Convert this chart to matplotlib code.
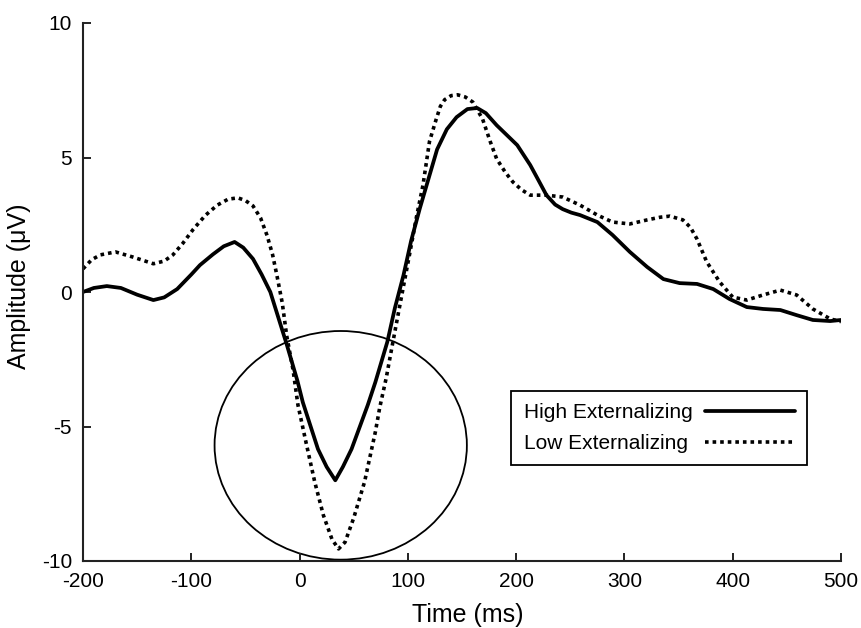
import matplotlib
matplotlib.use('Agg')
import numpy as np
import matplotlib.pyplot as plt
from matplotlib.patches import Ellipse

# ERP waveforms (time in ms, amplitude in uV)
t_high = [-200, -190, -178, -165, -150, -135, -125, -113, -100, -92, -80, -70, -60, -52,
          -43, -35, -27, -20, -12, -2, 3, 17, 25, 33, 40, 48, 63, 70, 81, 88, 96, 103,
          111, 119, 127, 136, 145, 155, 164, 172, 182, 191, 201, 213, 220, 228, 236,
          243, 251, 259, 275, 289, 305, 321, 336, 351, 367, 382, 397, 413, 428, 444,
          459, 474, 490, 500]
amp_high = [0.0, 0.15, 0.22, 0.15, -0.1, -0.3, -0.2, 0.11, 0.65, 1.0, 1.4, 1.7, 1.86, 1.65,
            1.23, 0.65, 0.0, -0.9, -1.93, -3.3, -4.1, -5.84, -6.5, -7.0, -6.5, -5.84, -4.2,
            -3.35, -1.86, -0.6, 0.63, 1.9, 3.1, 4.2, 5.3, 6.05, 6.5, 6.8, 6.84, 6.65, 6.2,
            5.85, 5.46, 4.72, 4.2, 3.6, 3.25, 3.08, 2.95, 2.86, 2.6, 2.12, 1.49, 0.93, 0.48,
            0.33, 0.3, 0.11, -0.26, -0.56, -0.63, -0.67, -0.86, -1.04, -1.08, -1.04]

t_low = [-200, -192, -184, -170, -154, -135, -125, -117, -108, -98, -87, -76, -66, -57,
         -50, -43, -36, -30, -25, -21, -16, -12, -6, -1.5, 6, 14, 22, 30, 36, 42, 50, 60,
         70, 74, 80, 86, 94, 102, 108, 114, 120, 126, 130, 134, 140, 146, 153, 160, 169,
         176, 182, 190, 197, 205, 213, 228, 243, 259, 275, 289, 305, 321, 333, 342, 354,
         361, 367, 376, 388, 400, 413, 428, 444, 459, 474, 490, 500]
amp_low = [0.86, 1.2, 1.38, 1.49, 1.3, 1.05, 1.15, 1.38, 1.8, 2.34, 2.85, 3.23, 3.45, 3.5,
           3.4, 3.2, 2.75, 2.1, 1.4, 0.63, -0.4, -1.6, -2.9, -4.2, -5.6, -7.06, -8.3, -9.2,
           -9.55, -9.3, -8.4, -7.06, -5.2, -4.3, -3.2, -1.9, -0.2, 1.49, 2.8, 3.98, 5.6,
           6.4, 6.9, 7.15, 7.3, 7.33, 7.25, 7.06, 6.43, 5.6, 4.95, 4.45, 4.09, 3.8, 3.6,
           3.6, 3.53, 3.23, 2.86, 2.6, 2.53, 2.68, 2.78, 2.82, 2.68, 2.4, 1.97, 1.12, 0.37,
           -0.19, -0.3, -0.11, 0.07, -0.11, -0.63, -1.0, -1.1]

labels = ['High Externalizing', 'Low Externalizing']
x_ticks = [-200, -100, 0, 100, 200, 300, 400, 500]
y_ticks = [-10, -5, 0, 5, 10]


def align_legend_text(fig, leg):
    # markerfirst=False right-aligns rows; pad the shorter label so texts start together
    fig.canvas.draw()
    r = fig.canvas.get_renderer()
    widths = [t.get_window_extent(r).width for t in leg.get_texts()]
    col = leg._legend_handle_box.get_children()[0]
    scale = 72.0 / fig.dpi
    for row, w in zip(col.get_children(), widths):
        row.sep = row.sep + (max(widths) - w) * scale


def main():
    plt.rcParams['font.family'] = ['Liberation Sans', 'DejaVu Sans']
    plt.rcParams['axes.unicode_minus'] = False

    fig = plt.figure(figsize=(8.61, 6.28), dpi=100)
    ax = fig.add_axes([83/861, 1-561/628, 758/861, 538/628])

    ax.plot(t_high, amp_high, color='black', lw=2.7, label=labels[0],
            solid_joinstyle='round', solid_capstyle='round')
    ax.plot(t_low, amp_low, color='black', lw=2.6, ls=(0, (1, 1.1)), label=labels[1])

    # circle highlighting the N1 trough
    ax.add_patch(Ellipse((38, -5.7), 233, 8.5, fill=False, lw=1.3, ec='black',
                         clip_on=False))

    ax.set_xlim(-200, 500)
    ax.set_ylim(-10, 10)
    ax.set_xticks(x_ticks)
    ax.set_yticks(y_ticks)
    ax.set_xticklabels([str(v) for v in x_ticks])
    ax.set_yticklabels([str(v) for v in y_ticks])

    for s in ['top', 'right']:
        ax.spines[s].set_visible(False)
    for s in ['left', 'bottom']:
        ax.spines[s].set_linewidth(1.5)
        ax.spines[s].set_color('#222222')
    ax.tick_params(direction='in', length=6, width=1.4, labelsize=15, color='#222222')
    ax.tick_params(axis='y', pad=8)
    ax.tick_params(axis='x', pad=8)

    ax.set_xlabel('Time (ms)', fontsize=18)
    ax.set_ylabel('Amplitude (\u03bcV)', fontsize=18)
    ax.xaxis.set_label_coords(0.508, -0.078)
    ax.yaxis.set_label_coords(-0.069, 0.51)

    leg = ax.legend(loc='upper left', bbox_to_anchor=(0.565, 0.316), borderaxespad=0,
                    markerfirst=False, fontsize=15, handlelength=4.3, handletextpad=0.6,
                    frameon=True, fancybox=False, framealpha=1, borderpad=0.6,
                    labelspacing=0.55)
    leg.get_frame().set_edgecolor('black')
    leg.get_frame().set_linewidth(1.3)
    align_legend_text(fig, leg)

    fig.savefig('out.png', dpi=100)


if __name__ == '__main__':
    main()
